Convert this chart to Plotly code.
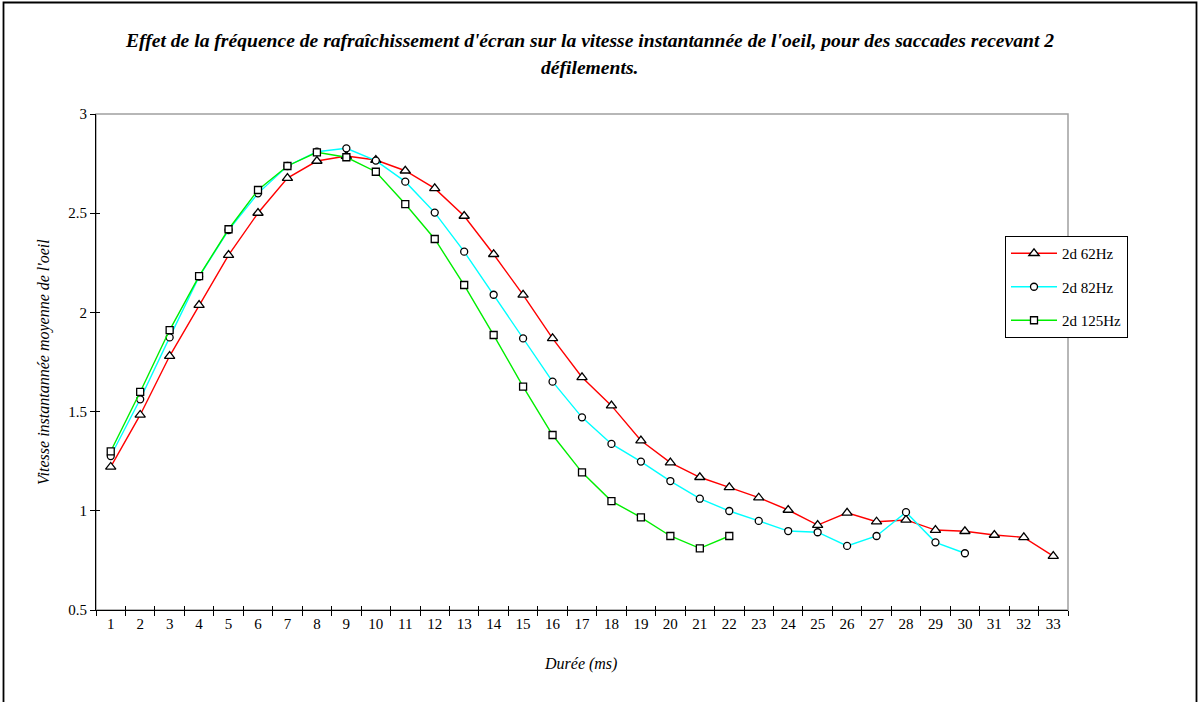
import plotly.graph_objects as go

categories = [str(i) for i in range(1, 34)]

s62 = [1.221, 1.483, 1.780, 2.037, 2.289, 2.501, 2.677, 2.763, 2.788, 2.768,
       2.714, 2.625, 2.486, 2.293, 2.088, 1.869, 1.673, 1.530, 1.354, 1.243,
       1.169, 1.118, 1.066, 1.004, 0.928, 0.990, 0.945, 0.954, 0.903, 0.897,
       0.878, 0.866, 0.772]
s82 = [1.276, 1.562, 1.874, 2.180, 2.415, 2.600, 2.738, 2.810, 2.827, 2.765,
       2.659, 2.503, 2.306, 2.089, 1.869, 1.651, 1.471, 1.337, 1.248, 1.150,
       1.061, 0.999, 0.949, 0.898, 0.892, 0.823, 0.873, 0.993, 0.841, 0.786]
s125 = [1.300, 1.599, 1.911, 2.183, 2.419, 2.617, 2.738, 2.807, 2.782, 2.709,
        2.546, 2.370, 2.138, 1.886, 1.626, 1.382, 1.194, 1.049, 0.967, 0.873,
        0.811, 0.873]

series_names = ["2d 62Hz", "2d 82Hz", "2d 125Hz"]
series_colors = ["#FF0000", "#00FFFF", "#00EE00"]
series_symbols = ["triangle-up", "circle", "square"]
series_sizes = [9, 7, 7]
series_data = [s62, s82, s125]

y_ticks = [0.5, 1, 1.5, 2, 2.5, 3]
y_ticktext = ["0.5", "1", "1.5", "2", "2.5", "3"]

FONT = "Liberation Serif"

fig = go.Figure()
for name, col, sym, sz, vals in zip(series_names, series_colors, series_symbols, series_sizes, series_data):
    fig.add_trace(go.Scatter(
        x=categories[:len(vals)], y=vals, name=name, mode="lines+markers",
        legendgroup=name,
        line=dict(color=col, width=1.4),
        marker=dict(symbol=sym, size=sz, color="white", line=dict(color="black", width=1.3)),
    ))

# invisible trace on overlay axes for crossing ticks
fig.add_trace(go.Scatter(x=categories, y=[None]*len(categories), xaxis="x2", yaxis="y2",
                         showlegend=False, hoverinfo="skip"))

L, R, T, B = 96, 130, 114, 92
W, H = 1198, 702
pw = W - L - R
ph = H - T - B

def px(x):
    return (x - L) / pw

def py(y):
    return (H - B - y) / ph

fig.update_layout(
    width=W, height=H,
    margin=dict(l=L, r=R, t=T, b=B, pad=0),
    paper_bgcolor="white", plot_bgcolor="white",
    font=dict(family=FONT, size=15, color="black"),
    showlegend=True,
    legend=dict(x=px(1005), y=py(236), xanchor="left", yanchor="top",
                bordercolor="black", borderwidth=1, bgcolor="white",
                font=dict(family=FONT, size=15), tracegroupgap=11,
                itemwidth=46, entrywidth=125),
    xaxis=dict(type="category", range=[-0.5, 32.5], tickson="boundaries",
               ticks="outside", ticklen=5, tickwidth=1, tickcolor="black",
               showline=True, linecolor="black", linewidth=1.2,
               showgrid=False, zeroline=False,
               tickfont=dict(family=FONT, size=15), fixedrange=True),
    yaxis=dict(range=[0.5, 3], tickvals=y_ticks, ticktext=y_ticktext,
               ticks="outside", ticklen=5, tickwidth=1, tickcolor="black",
               showline=True, linecolor="black", linewidth=1.2,
               showgrid=False, zeroline=False,
               tickfont=dict(family=FONT, size=15), fixedrange=True),
    xaxis2=dict(type="category", range=[-0.5, 32.5], tickson="boundaries",
                overlaying="x", anchor="y2", ticks="inside", ticklen=4, tickwidth=1,
                tickcolor="black", showticklabels=False, showline=False,
                showgrid=False, zeroline=False, side="bottom", fixedrange=True),
    yaxis2=dict(range=[0.5, 3], tickvals=y_ticks, overlaying="y", anchor="x2",
                ticks="inside", ticklen=4, tickwidth=1, tickcolor="black",
                showticklabels=False, showline=False, showgrid=False,
                zeroline=False, side="left", fixedrange=True),
    shapes=[
        dict(type="rect", xref="paper", yref="paper", x0=0, x1=1, y0=0, y1=1,
             line=dict(color="#A0A0A0", width=1.5), layer="below"),
        dict(type="rect", xref="paper", yref="paper",
             x0=px(3.5), x1=px(1196.5), y0=py(730), y1=py(2.5),
             line=dict(color="black", width=1.8), layer="below"),
    ],
    annotations=[
        dict(text="<b><i>Effet de la fréquence de rafraîchissement d'écran sur la vitesse instantannée de l'oeil, pour des saccades recevant 2</i></b>",
             xref="paper", yref="paper", x=px(589), y=py(40), xanchor="center", yanchor="middle",
             showarrow=False, font=dict(family=FONT, size=19.6)),
        dict(text="<b><i>défilements.</i></b>",
             xref="paper", yref="paper", x=px(589), y=py(67), xanchor="center", yanchor="middle",
             showarrow=False, font=dict(family=FONT, size=19.6)),
        dict(text="<i>Vitesse instantannée moyenne de l'oeil</i>",
             xref="paper", yref="paper", x=px(44), y=py(362), xanchor="center", yanchor="middle",
             textangle=-90, showarrow=False, font=dict(family=FONT, size=16)),
        dict(text="<i>Durée (ms)</i>",
             xref="paper", yref="paper", x=px(580), y=py(664), xanchor="center", yanchor="middle",
             showarrow=False, font=dict(family=FONT, size=16)),
    ],
)

fig.write_html("out.html", config={"displayModeBar": False},
               post_script="document.body.style.margin='0';document.body.style.overflow='hidden';")
